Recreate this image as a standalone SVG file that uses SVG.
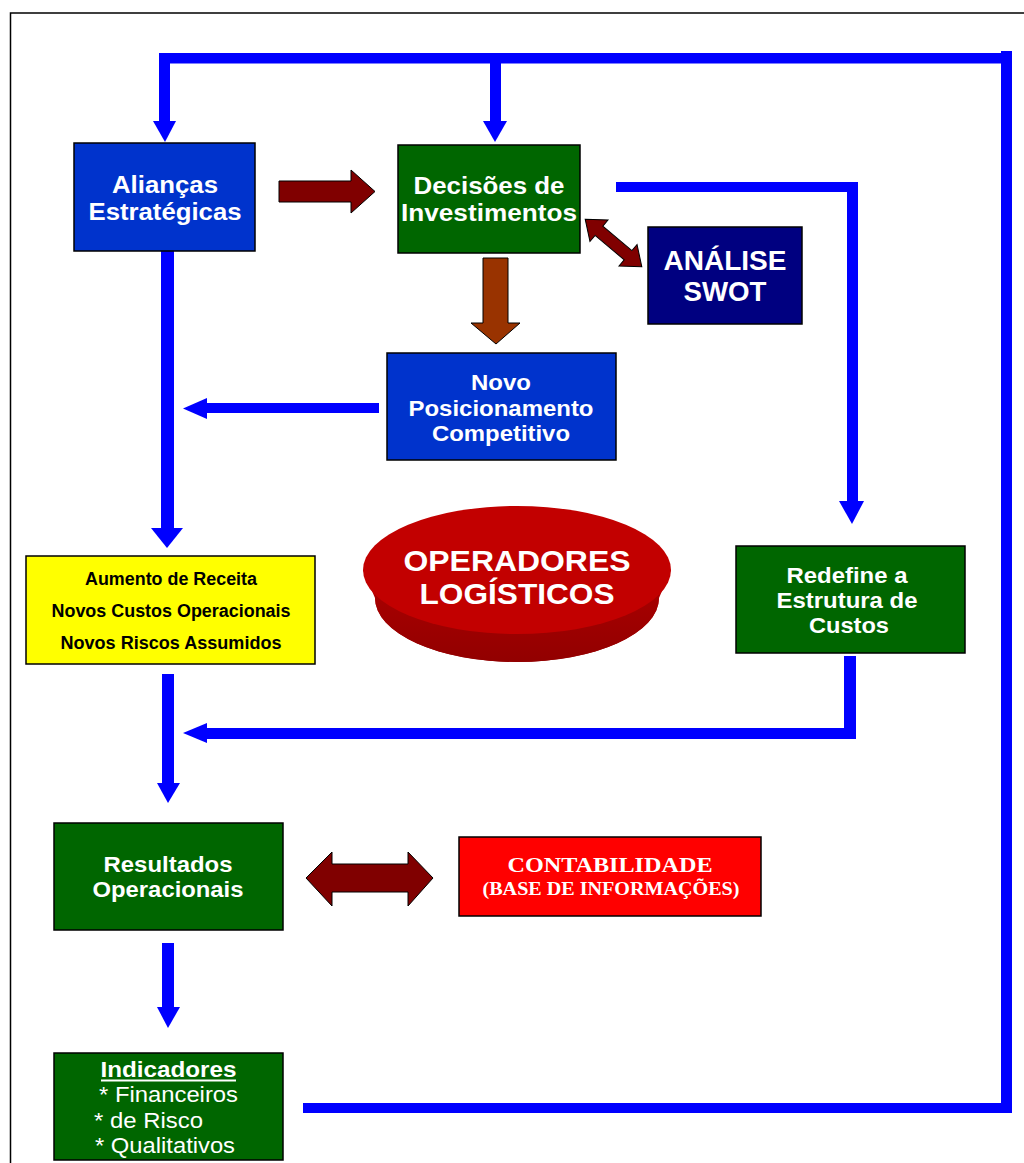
<svg xmlns="http://www.w3.org/2000/svg" width="1024" height="1163" viewBox="0 0 1024 1163">
  <defs>
    <style>
      .box { stroke: #000; stroke-width: 1.5; }
      .blue { fill: #0000FF; }
      .t { font-family: "Liberation Sans", Arial, sans-serif; font-weight: bold; fill: #fff; text-anchor: middle; }
      .tr { font-family: "Liberation Sans", Arial, sans-serif; fill: #fff; }
      .tk { font-family: "Liberation Sans", Arial, sans-serif; font-weight: bold; fill: #000; text-anchor: middle; font-size: 17.5px; }
      .ts { font-family: "Liberation Serif", "Times New Roman", serif; font-weight: bold; fill: #fff; text-anchor: middle; }
      .red { fill: #800000; stroke: #000; stroke-width: 1; }
    </style>
    <linearGradient id="discSide" x1="0" y1="0" x2="0" y2="1">
      <stop offset="0" stop-color="#B80000"/>
      <stop offset="1" stop-color="#920000"/>
    </linearGradient>
  </defs>

  <rect width="1024" height="1163" fill="#fff"/>
  <!-- page frame -->
  <path d="M10.5,1163 V13 H1024" fill="none" stroke="#000" stroke-width="1.5"/>

  <!-- connectors -->
  <g id="connectors">
    <!-- feedback loop: Indicadores back to the top -->
    <rect class="blue" x="303" y="1103" width="709" height="10"/>
    <rect class="blue" x="1001" y="51" width="11" height="1062"/>
    <rect class="blue" x="159" y="53" width="853" height="10.5"/>
    <rect class="blue" x="159" y="53" width="11" height="70"/>
    <polygon class="blue" points="153,121 176,121 165,142"/>
    <rect class="blue" x="490" y="58" width="11" height="65"/>
    <polygon class="blue" points="483,121 507,121 495,142"/>

    <!-- Alianças down to the yellow box -->
    <rect class="blue" x="161" y="251" width="13" height="279"/>
    <polygon class="blue" points="151,528 183,528 167,548"/>

    <!-- Novo Posicionamento to the left -->
    <rect class="blue" x="205" y="403" width="174" height="10"/>
    <polygon class="blue" points="207,398 207,419 183,408.5"/>

    <!-- Decisões to Redefine -->
    <rect class="blue" x="616" y="182" width="242" height="10"/>
    <rect class="blue" x="847" y="182" width="11" height="320"/>
    <polygon class="blue" points="839,501 864,501 852,524"/>

    <!-- Redefine back to the left -->
    <rect class="blue" x="844" y="656" width="12" height="83"/>
    <rect class="blue" x="205" y="728" width="651" height="11"/>
    <polygon class="blue" points="207,723 207,743 183,733"/>

    <!-- yellow box down to Resultados -->
    <rect class="blue" x="162" y="674" width="12" height="111"/>
    <polygon class="blue" points="157,783 180,783 168,803"/>

    <!-- Resultados down to Indicadores -->
    <rect class="blue" x="162" y="943" width="12" height="66"/>
    <polygon class="blue" points="157,1007 180,1007 168,1028"/>

    <!-- block arrows -->
    <polygon class="red" points="279,181 351,181 351,170 375,191.5 351,213 351,202 279,202"/>
    <polygon fill="#993300" stroke="#000" stroke-width="1" points="483,258 508,258 508,323 520,323 496,344 471,323 483,323"/>
    <polygon class="red" transform="translate(613.5,243) rotate(40.1)" points="-37,0 -19,-14 -19,-6 19,-6 19,-14 37,0 19,14 19,6 -19,6 -19,14"/>
    <polygon class="red" points="306,878 332,852 332,864 408,864 408,852 433,878 408,906 408,892 332,892 332,906"/>
  </g>

  <g id="aliancas">
    <rect class="box" x="74" y="143" width="181" height="108" fill="#0033CC"/>
    <text class="t" font-size="23.5" x="165" y="193" textLength="106" lengthAdjust="spacingAndGlyphs">Alianças</text>
    <text class="t" font-size="23.5" x="165" y="220" textLength="153" lengthAdjust="spacingAndGlyphs">Estratégicas</text>
  </g>

  <g id="decisoes">
    <rect class="box" x="398" y="145" width="182" height="108" fill="#006600"/>
    <text class="t" font-size="23.5" x="489" y="194" textLength="151" lengthAdjust="spacingAndGlyphs">Decisões de</text>
    <text class="t" font-size="23.5" x="489" y="221" textLength="176" lengthAdjust="spacingAndGlyphs">Investimentos</text>
  </g>

  <g id="swot">
    <rect class="box" x="648" y="227" width="154" height="97" fill="#000080"/>
    <text class="t" font-size="27" x="725" y="270" textLength="123" lengthAdjust="spacingAndGlyphs">ANÁLISE</text>
    <text class="t" font-size="27" x="725" y="301" textLength="83" lengthAdjust="spacingAndGlyphs">SWOT</text>
  </g>

  <g id="novo-posicionamento">
    <rect class="box" x="387" y="353" width="229" height="107" fill="#0033CC"/>
    <text class="t" font-size="22" x="501" y="390" textLength="60" lengthAdjust="spacingAndGlyphs">Novo</text>
    <text class="t" font-size="22" x="501" y="416" textLength="185" lengthAdjust="spacingAndGlyphs">Posicionamento</text>
    <text class="t" font-size="22" x="501" y="441" textLength="138" lengthAdjust="spacingAndGlyphs">Competitivo</text>
  </g>

  <g id="impactos">
    <rect class="box" x="26" y="556" width="289" height="108" fill="#FFFF00"/>
    <text class="tk" x="171" y="585" textLength="172" lengthAdjust="spacingAndGlyphs">Aumento de Receita</text>
    <text class="tk" x="171" y="617" textLength="239" lengthAdjust="spacingAndGlyphs">Novos Custos Operacionais</text>
    <text class="tk" x="171" y="649" textLength="221" lengthAdjust="spacingAndGlyphs">Novos Riscos Assumidos</text>
  </g>

  <g id="operadores">
    <path d="M363,570 L375,598 A142,64 0 0 0 659,598 L671,570 Z" fill="url(#discSide)"/>
    <ellipse cx="517" cy="598" rx="142" ry="64" fill="url(#discSide)"/>
    <ellipse cx="517" cy="570" rx="154" ry="64" fill="#C20000"/>
    <text class="t" font-size="30" x="517" y="571" textLength="227" lengthAdjust="spacingAndGlyphs">OPERADORES</text>
    <text class="t" font-size="30" x="517" y="604" textLength="195" lengthAdjust="spacingAndGlyphs">LOGÍSTICOS</text>
  </g>

  <g id="redefine">
    <rect class="box" x="736" y="546" width="229" height="107" fill="#006600"/>
    <text class="t" font-size="22" x="847" y="583" textLength="121" lengthAdjust="spacingAndGlyphs">Redefine a</text>
    <text class="t" font-size="22" x="847" y="608" textLength="141" lengthAdjust="spacingAndGlyphs">Estrutura de</text>
    <text class="t" font-size="22" x="849" y="633" textLength="80" lengthAdjust="spacingAndGlyphs">Custos</text>
  </g>

  <g id="resultados">
    <rect class="box" x="54" y="823" width="229" height="107" fill="#006600"/>
    <text class="t" font-size="22" x="168" y="872" textLength="129" lengthAdjust="spacingAndGlyphs">Resultados</text>
    <text class="t" font-size="22" x="168" y="897" textLength="151" lengthAdjust="spacingAndGlyphs">Operacionais</text>
  </g>

  <g id="contabilidade">
    <rect class="box" x="459" y="837" width="302" height="79" fill="#FF0000"/>
    <text class="ts" font-size="22" x="610" y="872" textLength="205" lengthAdjust="spacingAndGlyphs">CONTABILIDADE</text>
    <text class="ts" font-size="18.5" x="611" y="895" textLength="257" lengthAdjust="spacingAndGlyphs">(BASE DE INFORMAÇÕES)</text>
  </g>

  <g id="indicadores">
    <rect class="box" x="54" y="1053" width="229" height="107" fill="#006600"/>
    <text class="t" font-size="22.5" x="168.5" y="1077" textLength="136" lengthAdjust="spacingAndGlyphs">Indicadores</text>
    <line x1="101" y1="1080.5" x2="236" y2="1080.5" stroke="#fff" stroke-width="2"/>
    <text class="tr" font-size="22" x="99" y="1102" textLength="139" lengthAdjust="spacingAndGlyphs">* Financeiros</text>
    <text class="tr" font-size="22" x="94" y="1128" textLength="109" lengthAdjust="spacingAndGlyphs">* de Risco</text>
    <text class="tr" font-size="22" x="95" y="1153" textLength="140" lengthAdjust="spacingAndGlyphs">* Qualitativos</text>
  </g>
</svg>
